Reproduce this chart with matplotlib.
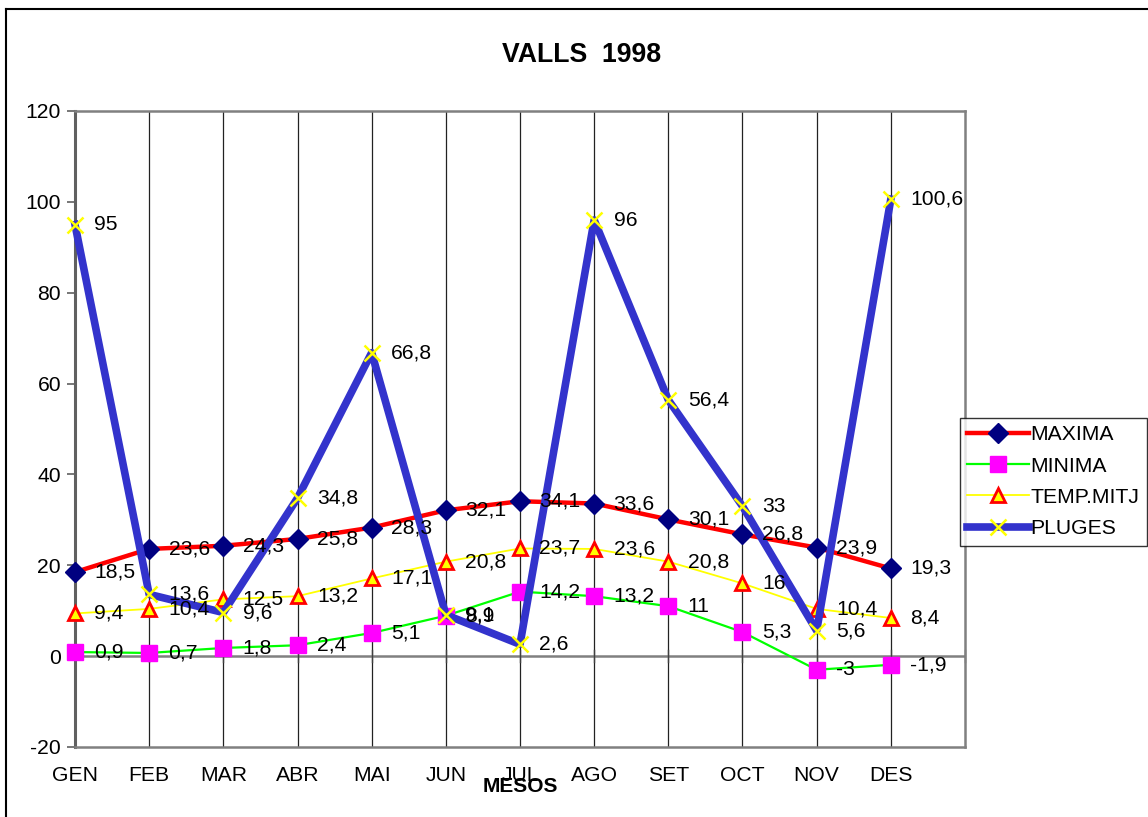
import matplotlib
matplotlib.use("Agg")
import matplotlib.pyplot as plt
from matplotlib.lines import Line2D

plt.rcParams['font.family'] = ['Liberation Sans', 'DejaVu Sans']

months = ["GEN", "FEB", "MAR", "ABR", "MAI", "JUN", "JUL", "AGO", "SET", "OCT", "NOV", "DES"]
maxima = [18.5, 23.6, 24.3, 25.8, 28.3, 32.1, 34.1, 33.6, 30.1, 26.8, 23.9, 19.3]
minima = [0.9, 0.7, 1.8, 2.4, 5.1, 8.9, 14.2, 13.2, 11, 5.3, -3, -1.9]
temp_mitj = [9.4, 10.4, 12.5, 13.2, 17.1, 20.8, 23.7, 23.6, 20.8, 16, 10.4, 8.4]
pluges = [95, 13.6, 9.6, 34.8, 66.8, 9.1, 2.6, 96, 56.4, 33, 5.6, 100.6]
y_ticks = [-20, 0, 20, 40, 60, 80, 100, 120]

W, H = 1148, 817
FS = 15.2
fig = plt.figure(figsize=(W / 100, H / 100), dpi=100)
ax = fig.add_axes([75 / W, 1 - 747 / H, 890 / W, 636 / H])

x = list(range(len(months)))

def fmt(v):
    s = ("%g" % v)
    return s.replace(".", ",")

series = [
    ("MAXIMA", maxima, dict(color="#FF0000", lw=3.2, marker="D", ms=10,
                            mfc="#000080", mec="#000080")),
    ("MINIMA", minima, dict(color="#00FF00", lw=1.6, marker="s", ms=11,
                            mfc="#FF00FF", mec="#FF00FF")),
    ("TEMP.MITJ", temp_mitj, dict(color="#FFFF00", lw=1.3, marker="^", ms=10,
                                  mfc="#FFFF00", mec="#FF0000", mew=2)),
    ("PLUGES", pluges, dict(color="#3333CC", lw=5.5, marker="x", ms=11,
                            mfc="#FFFF00", mec="#FFFF00", mew=1.8)),
]

handles = []
for z, (name, vals, st) in enumerate(series):
    h, = ax.plot(x, vals, label=name, zorder=3 + z, clip_on=False, **st)
    handles.append(h)

for z, (name, vals, st) in enumerate(series):
    for xi, v in zip(x, vals):
        ax.annotate(fmt(v), (xi, v), xytext=(14, 0), textcoords="offset points",
                    ha="left", va="center", fontsize=FS, color="black",
                    zorder=10 + z)

ax.set_xlim(0, 12)
ax.set_ylim(-20, 120)
ax.set_yticks(y_ticks)
ax.set_yticklabels([str(t) for t in y_ticks], fontsize=FS)

# vertical gridlines
for xi in range(1, 12):
    ax.axvline(xi, color="#222222", lw=0.9, zorder=1)
# zero axis
ax.axhline(0, color="#808080", lw=1.8, zorder=2)
for xi in range(0, 13):
    ax.plot([xi, xi], [-1.3, 1.3], color="#404040", lw=1.0, zorder=2, clip_on=False)

for side in ["top", "right", "bottom"]:
    ax.spines[side].set_color("#808080")
    ax.spines[side].set_linewidth(1.8)
ax.spines["left"].set_color("#606060")
ax.spines["left"].set_linewidth(2.2)

ax.tick_params(axis="y", direction="out", length=6, width=1.2, color="#606060", pad=4)
ax.tick_params(axis="x", length=0)
ax.set_xticks([])
for xi, m in zip(x, months):
    ax.text(xi, -26.3, m, ha="center", va="center", fontsize=FS)

fig.text(520 / W, 1 - 787 / H, "MESOS", ha="center", va="center",
         fontsize=15, fontweight="bold")
fig.text(582 / W, 1 - 55 / H, "VALLS  1998", ha="center", va="center",
         fontsize=19.2, fontweight="bold")

leg = fig.legend(handles=handles, loc="upper left",
                 bbox_to_anchor=(960 / W, 1 - 418 / H), fontsize=FS,
                 frameon=True, fancybox=False, edgecolor="black",
                 handlelength=2.9, handletextpad=0.1, borderpad=0.35,
                 labelspacing=0.58, borderaxespad=0)
leg.get_frame().set_linewidth(1.0)

# chart border (left and top visible)
fig.add_artist(Line2D([5.5 / W, 5.5 / W], [0, 1 - 8.5 / H], color="black",
                      lw=1.5, transform=fig.transFigure))
fig.add_artist(Line2D([5.5 / W, 1], [1 - 8.5 / H, 1 - 8.5 / H], color="black",
                      lw=1.5, transform=fig.transFigure))

fig.savefig("out.png", dpi=100)
